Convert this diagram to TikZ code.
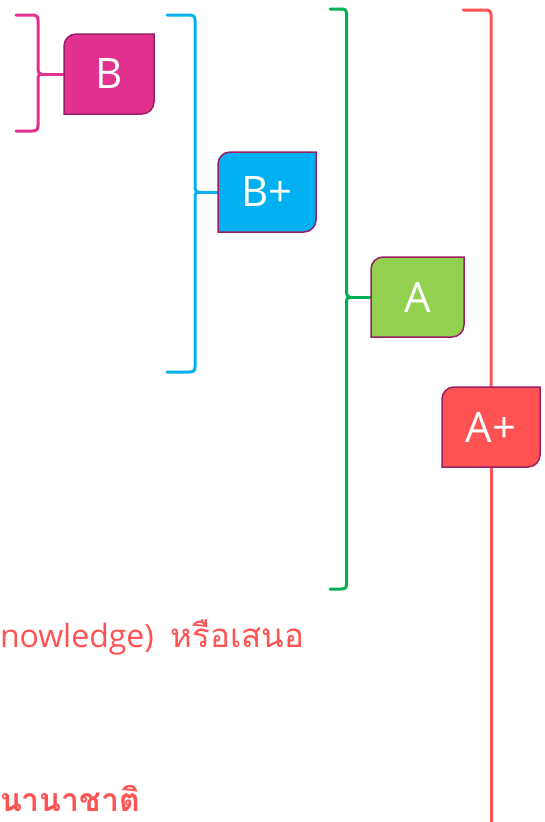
\documentclass[tikz,border=0pt]{standalone}
\usepackage{fontspec}
\newfontfamily\thaifont[Script=Thai]{Loma}
\newfontfamily\boxfont{Open Sans}
\usetikzlibrary{calc}
\pgfdeclarelayer{bg}
\pgfsetlayers{bg,main}
\definecolor{pinkc}{HTML}{E2308F}
\definecolor{bluec}{HTML}{00B0F0}
\definecolor{greenc}{HTML}{00B050}
\definecolor{limec}{HTML}{92D050}
\definecolor{redc}{HTML}{FF5252}
\definecolor{rimc}{HTML}{9B1F66}
\tikzset{
  grade/.style={inner sep=0pt, outer sep=0pt, minimum height=80pt, text=white, font=\boxfont\fontsize{42}{42}\selectfont},
  brk/.style={line width=3pt, line cap=round, line join=round},
  rim/.style={draw=rimc, line width=1.5pt},
  note/.style={inner sep=0pt, outer sep=0pt, anchor=base west, text=redc},
}
\newcommand\gradeshape[2]{%
  \path[rim, fill=#2] (#1.south west) -- ([yshift=-12pt]#1.north west)
    .. controls ([yshift=-5.4pt]#1.north west) and ([xshift=5.4pt]#1.north west) .. ([xshift=12pt]#1.north west)
    -- (#1.north east) -- ([yshift=12pt]#1.south east)
    .. controls ([yshift=5.4pt]#1.south east) and ([xshift=-5.4pt]#1.south east) .. ([xshift=-12pt]#1.south east)
    -- cycle;}
\begin{document}
\begin{tikzpicture}[x=1pt,y=-1pt]
\useasboundingbox (0,0) rectangle (545,822);
\node[grade, minimum width=90pt] (B) at (109,74) {B};
\node[grade, minimum width=98pt] (Bp) at (267,192) {B+};
\node[grade, minimum width=93pt] (A) at (417.5,297) {A};
\node[grade, minimum width=98pt] (Ap) at (491,427) {A+};
\node[note, font=\thaifont\fontsize{33}{33}\selectfont] (t1) at (0,647) {{\boxfont\fontsize{32}{32}\selectfont nowledge)}\hspace{17pt}หรือเสนอ};
\node[note, font=\thaifont\bfseries\fontsize{32}{32}\selectfont] (t2) at (0,811) {นานาชาติ};
\coordinate (pB) at (41,74);
\coordinate (pBp) at (198,192);
\coordinate (pA) at (349.5,297);
\coordinate (rb) at (491,822);
\begin{pgfonlayer}{bg}
% pink bracket
\draw[brk, pinkc] (16,15) -- (32,15) .. controls (36,15) and (38,16) .. (38,20) -- (38,68)
  .. controls (38,72) and (39,74) .. (pB) .. controls (39,74) and (38,76) .. (38,80)
  -- (38,126) .. controls (38,130) and (36,131) .. (32,131) -- (16,131);
\draw[brk, pinkc] (pB) -- (B);
% blue bracket
\draw[brk, bluec] (167,15) -- (189,15) .. controls (193,15) and (195,16) .. (195,20) -- (195,186)
  .. controls (195,190) and (196,192) .. (pBp) .. controls (196,192) and (195,194) .. (195,198)
  -- (195,367) .. controls (195,371) and (193,372) .. (189,372) -- (167,372);
\draw[brk, bluec] (pBp) -- (Bp);
% green bracket
\draw[brk, greenc] (330,9) -- (341,9) .. controls (345,9) and (346.5,10) .. (346.5,14) -- (346.5,291)
  .. controls (346.5,295) and (347.5,297) .. (pA) .. controls (347.5,297) and (346.5,299) .. (346.5,303)
  -- (346.5,584) .. controls (346.5,588) and (345,589) .. (341,589) -- (330,589);
\draw[brk, greenc] (pA) -- (A);
% red bracket
\draw[brk, redc] (463,10) -- (485,10) .. controls (489,10) and (491,11) .. (491,15) -- (Ap.north);
\draw[brk, redc, line cap=butt] (Ap.south) -- (rb);
\gradeshape{B}{pinkc}
\gradeshape{Bp}{bluec}
\gradeshape{A}{limec}
\gradeshape{Ap}{redc}
\end{pgfonlayer}
\end{tikzpicture}
\end{document}
